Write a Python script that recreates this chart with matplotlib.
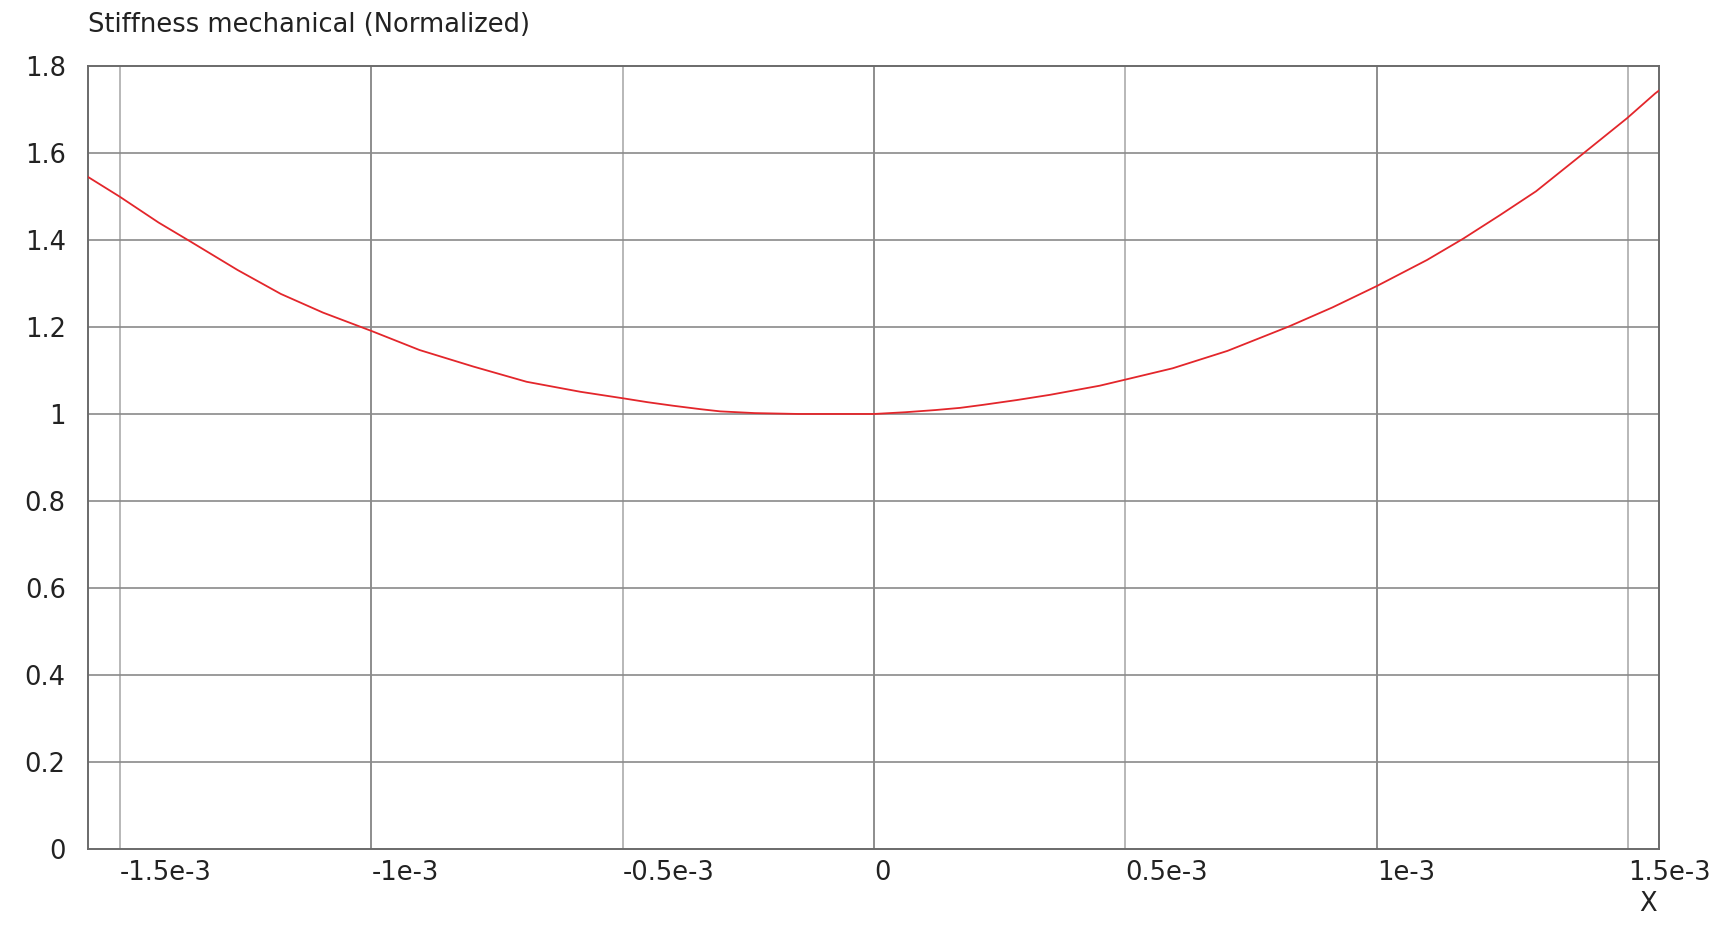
import numpy as np
import matplotlib
matplotlib.use('Agg')
import matplotlib.pyplot as plt

# curve (x in units of 1e-3)
x_k = [-1.565, -1.501, -1.423, -1.362, -1.266, -1.180, -1.096, -1.000, -0.904,
       -0.797, -0.691, -0.584, -0.499, -0.450, -0.400, -0.345, -0.306, -0.237,
       -0.150, -0.050, 0.000, 0.062, 0.122, 0.171, 0.217, 0.284, 0.350, 0.449,
       0.500, 0.594, 0.703, 0.825, 0.912, 1.000, 1.100, 1.172, 1.245, 1.317,
       1.411, 1.498, 1.554, 1.562]
stiffness = [1.546, 1.500, 1.440, 1.398, 1.331, 1.276, 1.233, 1.191, 1.147,
             1.109, 1.074, 1.051, 1.036, 1.027, 1.019, 1.011, 1.006, 1.002,
             1.000, 1.000, 1.000, 1.004, 1.009, 1.014, 1.021, 1.032, 1.044,
             1.065, 1.079, 1.105, 1.145, 1.201, 1.245, 1.294, 1.354, 1.403,
             1.457, 1.512, 1.599, 1.680, 1.737, 1.744]

xticks = [-1.5e-3, -1e-3, -0.5e-3, 0, 0.5e-3, 1e-3, 1.5e-3]
xtick_labels = ['-1.5e-3', '-1e-3', '-0.5e-3', '0', '0.5e-3', '1e-3', '1.5e-3']
yticks = [0, 0.2, 0.4, 0.6, 0.8, 1.0, 1.2, 1.4, 1.6, 1.8]
ytick_labels = ['0', '0.2', '0.4', '0.6', '0.8', '1', '1.2', '1.4', '1.6', '1.8']

plt.rcParams['font.family'] = ['DejaVu Sans']
fs = 18.5
txt = '#222222'

fig = plt.figure(figsize=(17.28, 9.32), dpi=100)
ax = fig.add_axes([0.0509, 0.0891, 0.9092, 0.8401])

x = np.array(x_k) * 1e-3
ax.plot(x, stiffness, color='#e3262b', lw=1.3, zorder=3)

ax.set_xlim(-1.5636e-3, 1.5616e-3)
ax.set_ylim(0, 1.8)

# grid: darker at whole 1e-3 steps, lighter at the half steps
for xv in xticks:
    major = abs(round(xv * 1e3) - xv * 1e3) < 1e-9
    ax.axvline(xv, color='#7a7a7a' if major else '#ababab', lw=1.2, zorder=1)
for yv in yticks[1:-1]:
    ax.axhline(yv, color='#8a8a8a', lw=1.2, zorder=1)

for s in ax.spines.values():
    s.set_color('#6a6a6a')
    s.set_linewidth(1.4)

ax.set_xticks(xticks)
ax.set_xticklabels(xtick_labels, ha='left')
ax.set_yticks(yticks)
ax.set_yticklabels(ytick_labels)
ax.tick_params(axis='both', length=0, labelsize=fs, colors=txt)
ax.tick_params(axis='x', pad=8)
ax.tick_params(axis='y', pad=16)

fig.text(0.0509, 0.9737, 'Stiffness mechanical (Normalized)', fontsize=fs,
         color=txt, ha='left', va='center')
fig.text(0.9537, 0.030, 'X', fontsize=fs, color=txt, ha='center', va='center')

fig.savefig('out.png', dpi=100, facecolor='white')
